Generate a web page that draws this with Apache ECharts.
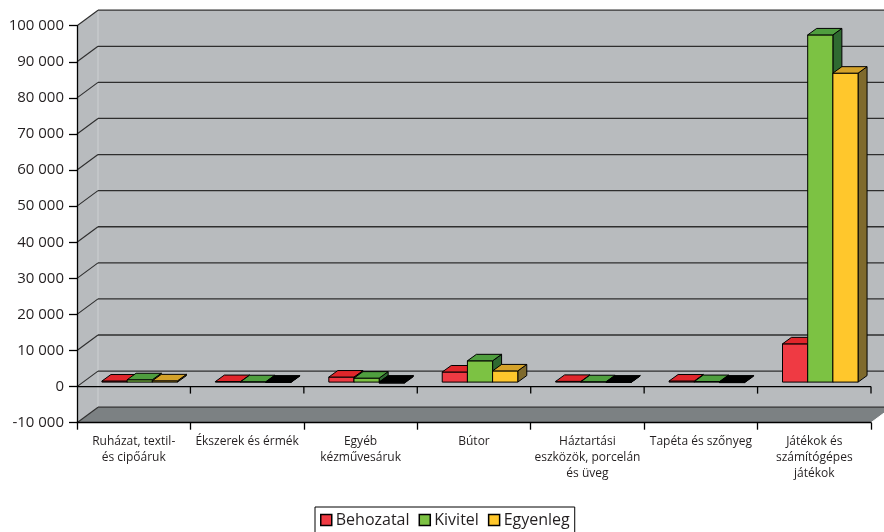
<!DOCTYPE html>
<html>
<head>
<meta charset="utf-8">
<script src="https://cdn.jsdelivr.net/npm/echarts@6/dist/echarts.min.js"></script>
<style>
html,body{margin:0;padding:0;background:#fff;}
#chart{width:884px;height:532px;}
</style>
</head>
<body>
<div id="chart"></div>
<script>
// ---- data ----
const categories = [
  'Ruházat, textil-\nés cipőáruk',
  'Ékszerek és érmék',
  'Egyéb\nkézművesáruk',
  'Bútor',
  'Háztartási\neszközök, porcelán\nés üveg',
  'Tapéta és szőnyeg',
  'Játékok és\nszámítógépes\njátékok'
];
const seriesNames = ['Behozatal', 'Kivitel', 'Egyenleg'];
const behozatal = [300, 150, 1400, 2800, 200, 300, 10600];
const kivitel   = [650, 100, 1100, 5900, 100, 150, 96200];
const egyenleg  = [350, -100, -300, 3100, -100, -150, 85600];
const yTicks = [-10000, 0, 10000, 20000, 30000, 40000, 50000, 60000, 70000, 80000, 90000, 100000];

// ---- styles ----
const FONT = '"Open Sans", "Noto Sans", sans-serif';
const DEPTH = [21, -15.5];      // wall depth offset (px)
const BDEPTH = [9, -6.5];       // bar depth offset (px)
const WALL = '#b8bbbe';
const FLOOR = '#7c8183';
const GRID = '#2e2e2e';
const palette = [
  {front: '#ef3a43', top: '#e0262b', side: '#8e1c20'},
  {front: '#7cc243', top: '#4f9e3f', side: '#2f6a31'},
  {front: '#ffc72c', top: '#d4a22a', side: '#7f6a2d'}
];

function fmt(v) {
  const s = Math.abs(v).toString().replace(/\B(?=(\d{3})+(?!\d))/g, ' ');
  return (v < 0 ? '-' : '') + s;
}

const chart = echarts.init(document.getElementById('chart'), null, {renderer: 'canvas'});

function wallRender(params, api) {
  const cs = params.coordSys;
  const dx = DEPTH[0], dy = DEPTH[1];
  const x0 = cs.x, x1 = cs.x + cs.width, yT = cs.y, yB = cs.y + cs.height;
  const children = [];
  children.push({type: 'rect', shape: {x: x0 + dx, y: yT + dy, width: cs.width, height: cs.height}, style: {fill: WALL}});
  children.push({type: 'polygon', shape: {points: [[x0, yT], [x0 + dx, yT + dy], [x0 + dx, yB + dy], [x0, yB]]}, style: {fill: WALL}});
  children.push({type: 'polygon', shape: {points: [[x0, yB], [x1, yB], [x1 + dx, yB + dy], [x0 + dx, yB + dy]]}, style: {fill: FLOOR}});
  children.push({type: 'line', shape: {x1: x0 + dx, y1: yT + dy, x2: x0 + dx, y2: yB + dy}, style: {stroke: '#cdd0d2', lineWidth: 1}});
  yTicks.forEach(function (t) {
    const y = api.coord([0, t])[1];
    children.push({type: 'line', shape: {x1: x0 + dx, y1: y + dy, x2: x1 + dx + 5, y2: y + dy}, style: {stroke: GRID, lineWidth: 1.3}});
    children.push({type: 'line', shape: {x1: x0, y1: y, x2: x0 + dx, y2: y + dy}, style: {stroke: GRID, lineWidth: 1.1}});
  });
  children.push({type: 'line', shape: {x1: x1, y1: yB, x2: x1 + dx, y2: yB + dy}, style: {stroke: '#ffffff', lineWidth: 1}});
  return {type: 'group', children: children};
}

function makeBarRender(sIdx) {
  return function (params, api) {
    const cat = api.value(0), v = api.value(1);
    const bw = api.size([1, 0])[0];
    const barW = bw * 0.222;
    const base = api.coord([cat, 0]);
    const tip = api.coord([cat, v]);
    const offX = (DEPTH[0] - BDEPTH[0]) / 2, offY = (DEPTH[1] - BDEPTH[1]) / 2;
    const xl = base[0] + offX + (sIdx - 1) * barW - barW / 2;
    const y0 = base[1] + offY, yv = tip[1] + offY;
    const yTop = Math.min(y0, yv), yBot = Math.max(y0, yv);
    const dx = BDEPTH[0], dy = BDEPTH[1];
    const col = palette[sIdx];
    const neg = v < 0;
    const stroke = {stroke: '#000', lineWidth: 1, lineJoin: 'round'};
    const children = [
      {type: 'polygon', shape: {points: [[xl + barW, yTop], [xl + barW + dx, yTop + dy], [xl + barW + dx, yBot + dy], [xl + barW, yBot]]},
        style: Object.assign({fill: neg ? '#000' : col.side}, stroke)},
      {type: 'rect', shape: {x: xl, y: yTop, width: barW, height: Math.max(yBot - yTop, 0.01)},
        style: Object.assign({fill: neg ? '#111' : col.front}, stroke)},
      {type: 'polygon', shape: {points: [[xl, yTop], [xl + barW, yTop], [xl + barW + dx, yTop + dy], [xl + dx, yTop + dy]]},
        style: Object.assign({fill: neg ? '#000' : col.top}, stroke)}
    ];
    return {type: 'group', children: children};
  };
}

function frontRender(params, api) {
  const cs = params.coordSys;
  const y = api.coord([0, 0])[1];
  const bw = api.size([1, 0])[0];
  const children = [{type: 'line', shape: {x1: cs.x, y1: y, x2: cs.x + cs.width, y2: y}, style: {stroke: '#000', lineWidth: 1.3}}];
  for (let i = 0; i < categories.length; i++) {
    const x = api.coord([i, 0])[0] + bw / 2;
    children.push({type: 'line', shape: {x1: x, y1: y, x2: x, y2: y + 7}, style: {stroke: '#000', lineWidth: 1.3}});
  }
  return {type: 'group', children: children};
}

const barData = [behozatal, kivitel, egyenleg];

const option = {
  animation: false,
  backgroundColor: '#ffffff',
  textStyle: {fontFamily: FONT},
  grid: {left: 77, right: 13, top: 25.7, bottom: 109.3, containLabel: false},
  legend: {
    data: seriesNames,
    left: 315,
    top: 507,
    padding: [5, 5, 8, 5],
    itemGap: 9,
    itemWidth: 11,
    itemHeight: 11,
    icon: 'rect',
    borderColor: '#000',
    borderWidth: 1,
    itemStyle: {borderColor: '#000', borderWidth: 1.5},
    textStyle: {fontFamily: FONT, fontSize: 16, color: '#231f20', padding: [0, 0, 0, -1]}
  },
  xAxis: {
    type: 'category',
    data: categories,
    z: 10,
    axisLine: {onZero: false, lineStyle: {color: '#000', width: 1.3}},
    axisTick: {show: true, length: 7, lineStyle: {color: '#000', width: 1.3}},
    axisLabel: {interval: 0, margin: 11, fontFamily: FONT, fontSize: 12, lineHeight: 16, color: '#231f20'},
    splitLine: {show: false}
  },
  yAxis: {
    type: 'value',
    min: yTicks[0],
    max: yTicks[yTicks.length - 1],
    interval: 10000,
    z: 10,
    axisLine: {show: true, lineStyle: {color: '#000', width: 1.3}},
    axisTick: {show: true, length: 8, lineStyle: {color: '#000', width: 1.3}},
    axisLabel: {margin: 13, fontFamily: FONT, fontSize: 15, color: '#231f20', formatter: fmt},
    splitLine: {show: false}
  },
  series: [
    {type: 'custom', name: 'wall', z: 1, silent: true, renderItem: wallRender, data: [[0, 0]]},
    ...seriesNames.map(function (name, s) {
      return {
        type: 'custom', name: name, z: 3,
        itemStyle: {color: palette[s].front},
        renderItem: makeBarRender(s),
        data: barData[s].map(function (v, i) { return [i, v]; })
      };
    }),
    {type: 'custom', name: 'front', z: 5, silent: true, renderItem: frontRender, data: [[0, 0]]}
  ]
};
chart.setOption(option);
</script>
</body>
</html>
